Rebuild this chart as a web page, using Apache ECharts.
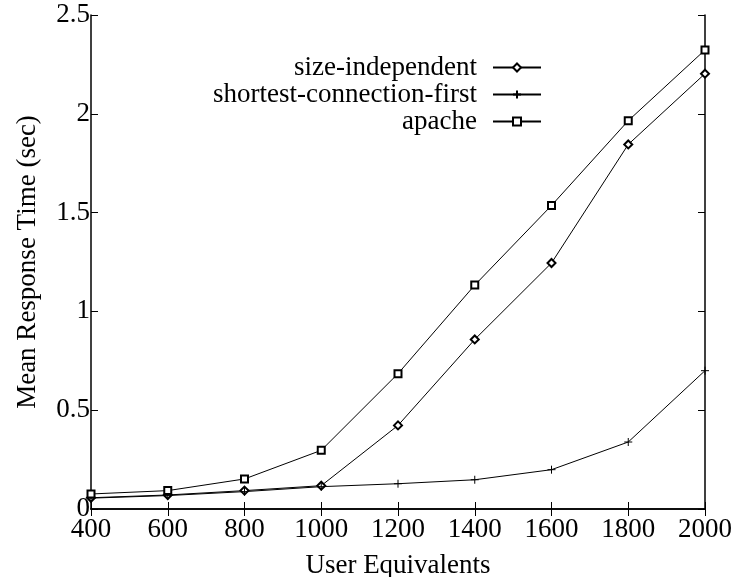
<!DOCTYPE html>
<html>
<head>
<meta charset="utf-8">
<script src="https://cdn.jsdelivr.net/npm/echarts@6/dist/echarts.min.js"></script>
<style>
  html, body { margin: 0; padding: 0; background: #fff; }
  #chart { width: 733px; height: 577px; }
</style>
</head>
<body>
<div id="chart"></div>
<script>
// Load (user equivalents) on the x axis
const userEquivalents = [400, 600, 800, 1000, 1200, 1400, 1600, 1800, 2000];

// Mean response time in seconds for each scheduling policy
const sizeIndependent = [0.057, 0.071, 0.093, 0.118, 0.423, 0.858, 1.245, 1.845, 2.203];
const shortestConnectionFirst = [0.055, 0.068, 0.088, 0.113, 0.128, 0.148, 0.199, 0.339, 0.700];
const apache = [0.076, 0.093, 0.152, 0.297, 0.685, 1.133, 1.536, 1.965, 2.323];

const seriesNames = ['size-independent', 'shortest-connection-first', 'apache'];

const FONT = 'Liberation Serif';
const FS = 27;
const INK = '#000';

const pair = (ys) => userEquivalents.map((x, i) => [x, ys[i]]);

const baseAxisLine = { show: true, lineStyle: { color: INK, width: 1.5 } };
const tick = { show: true, inside: true, length: 7, lineStyle: { color: INK, width: 1 } };

const chart = echarts.init(document.getElementById('chart'), null, { renderer: 'canvas' });

const plusPath = 'path://M0,5L10,5M5,0L5,10';

chart.setOption({
  animation: false,
  backgroundColor: '#fff',
  textStyle: { fontFamily: FONT, color: INK },
  grid: { left: 91, top: 15, width: 614, height: 494, containLabel: false, outerBoundsMode: 'none' },
  legend: {
    orient: 'vertical',
    align: 'right',
    right: 186,
    top: 49,
    itemWidth: 48,
    itemHeight: 10,
    itemGap: 0,
    data: seriesNames,
    textStyle: { fontFamily: FONT, fontSize: FS, color: INK, lineHeight: 27, padding: [0, 11, 0, 0] },
    selectedMode: false
  },
  xAxis: [
    {
      type: 'value', min: 400, max: 2000, interval: 200,
      name: 'User Equivalents', nameLocation: 'middle', nameGap: 43, nameMoveOverlap: false,
      nameTextStyle: { fontFamily: FONT, fontSize: FS, color: INK },
      axisLine: baseAxisLine, axisTick: tick,
      axisLabel: { fontFamily: FONT, fontSize: FS, color: INK, margin: 7, formatter: (v) => String(v) },
      splitLine: { show: false }
    },
    {
      type: 'value', min: 400, max: 2000, interval: 200, position: 'top',
      axisLine: baseAxisLine, axisTick: tick, axisLabel: { show: false },
      splitLine: { show: false }
    }
  ],
  yAxis: [
    {
      type: 'value', min: 0, max: 2.5, interval: 0.5,
      name: 'Mean Response Time (sec)', nameLocation: 'middle', nameGap: 50, nameMoveOverlap: false,
      nameTextStyle: { fontFamily: FONT, fontSize: FS, color: INK },
      axisLine: baseAxisLine, axisTick: tick,
      axisLabel: { fontFamily: FONT, fontSize: FS, color: INK, margin: 1 },
      splitLine: { show: false }
    },
    {
      type: 'value', min: 0, max: 2.5, interval: 0.5, position: 'right',
      axisLine: baseAxisLine, axisTick: tick, axisLabel: { show: false },
      splitLine: { show: false }
    }
  ],
  series: [
    {
      name: seriesNames[0], type: 'line', data: pair(sizeIndependent),
      symbol: 'emptyDiamond', symbolSize: 8,
      lineStyle: { color: INK, width: 1 },
      itemStyle: { color: INK, borderColor: INK, borderWidth: 1 }
    },
    {
      name: seriesNames[1], type: 'line', data: pair(shortestConnectionFirst),
      symbol: plusPath, symbolSize: 8,
      lineStyle: { color: INK, width: 1 },
      itemStyle: { color: INK, borderColor: INK, borderWidth: 1 }
    },
    {
      name: seriesNames[2], type: 'line', data: pair(apache),
      symbol: 'emptyRect', symbolSize: 7,
      lineStyle: { color: INK, width: 1 },
      itemStyle: { color: INK, borderColor: INK, borderWidth: 1 }
    }
  ]
});
</script>
</body>
</html>
